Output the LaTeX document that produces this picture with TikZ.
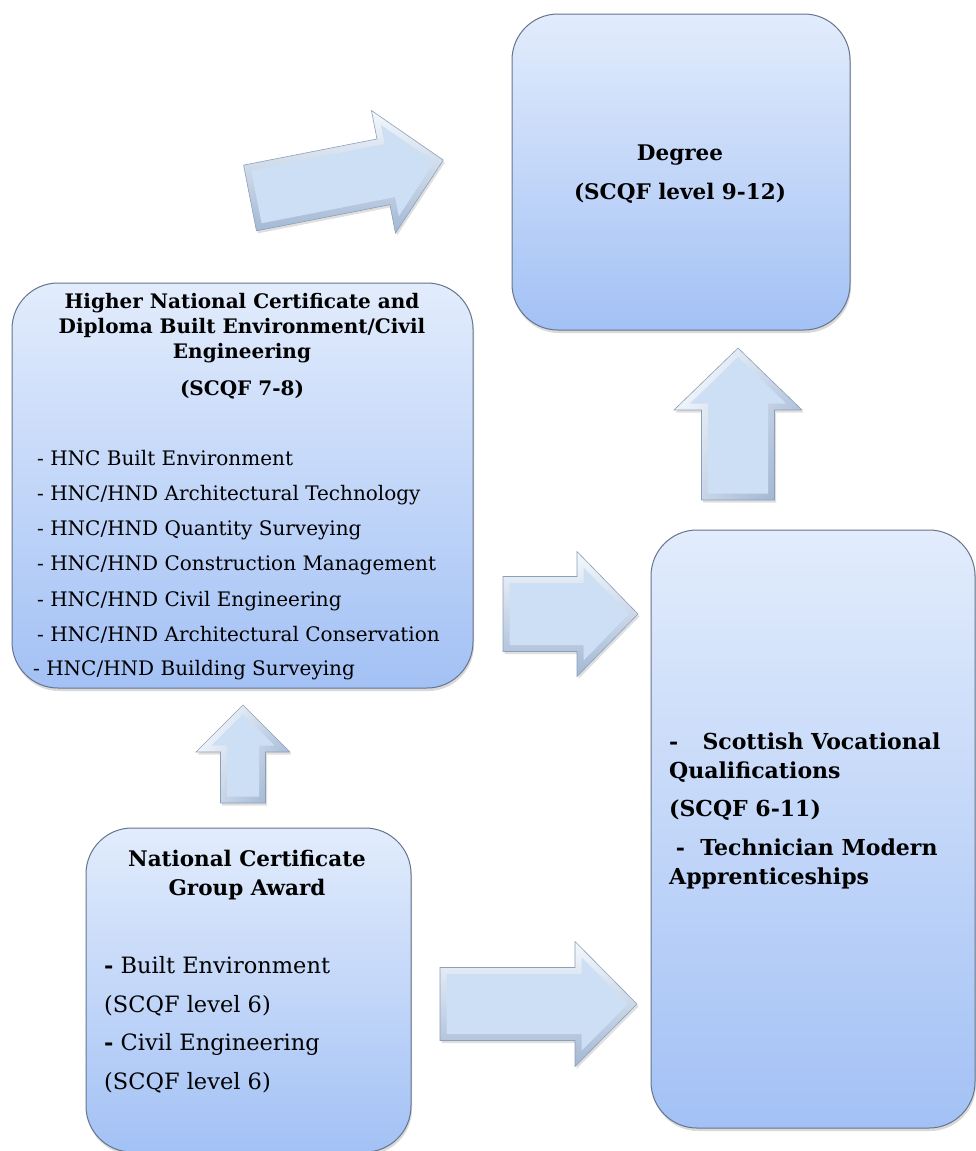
\documentclass[tikz,border=0pt]{standalone}
\usepackage{fontspec}
\setmainfont{DejaVu Serif}
\usetikzlibrary{shadows}
\definecolor{boxtop}{HTML}{E2ECFC}
\definecolor{boxbot}{HTML}{A3C1F5}
\definecolor{boxedge}{HTML}{65758C}
\definecolor{arrlight}{HTML}{CDDFF5}
\definecolor{arrdark}{HTML}{A3B8D4}
\definecolor{arrhi}{HTML}{F4F8FD}
\definecolor{arredge}{HTML}{8C9FB9}
% block arrow pointing along local +x from the origin: [shading angle] length, shaft half width, head half width, head length
\newcommand\qblockarrow[5][0]{%
  \pgfmathsetmacro\baL{#2}\pgfmathsetmacro\baS{#3}\pgfmathsetmacro\baH{#4}\pgfmathsetmacro\baK{#5}%
  \pgfmathsetmacro\baD{6.5}%
  \pgfmathsetmacro\baN{sqrt(\baH*\baH+\baK*\baK)}%
  \pgfmathsetmacro\baCy{\baH-\baD*(\baN+\baH)/\baK}%
  \pgfmathsetmacro\baTx{\baL-\baD*\baN/\baH}%
  \path[draw=arredge, line width=0.6pt, top color=arrhi, bottom color=arrdark, shading angle=#1,
        drop shadow={opacity=0.25, shadow xshift=1.5pt, shadow yshift=-2.5pt}]
    (0,\baS) -- (\baL-\baK,\baS) -- (\baL-\baK,\baH) -- (\baL,0) -- (\baL-\baK,-\baH)
    -- (\baL-\baK,-\baS) -- (0,-\baS) -- cycle;
  \fill[arrlight] (\baD,\baS-\baD) -- (\baL-\baK+\baD,\baS-\baD) -- (\baL-\baK+\baD,\baCy)
    -- (\baTx,0) -- (\baL-\baK+\baD,-\baCy) -- (\baL-\baK+\baD,-\baS+\baD) -- (\baD,-\baS+\baD) -- cycle;
}
\begin{document}
\begin{tikzpicture}[x=1pt,y=-1pt,
  qbox/.style={draw=boxedge, line width=1pt, rounded corners=46pt, top color=boxtop, bottom color=boxbot,
    drop shadow={opacity=0.3, shadow xshift=1pt, shadow yshift=-3pt}, anchor=north west, inner sep=0pt, outer sep=0pt},
  ttl/.style={font=\bfseries\fontsize{21.5}{25}\selectfont, anchor=base, inner sep=0pt},
  httl/.style={font=\bfseries\fontsize{20}{24}\selectfont, anchor=base, inner sep=0pt},
  itm/.style={font=\fontsize{20}{24}\selectfont, anchor=base west, inner sep=0pt},
  nitm/.style={font=\fontsize{22.5}{26}\selectfont, anchor=base west, inner sep=0pt},
  bitm/.style={font=\bfseries\fontsize{22}{26}\selectfont, anchor=base west, inner sep=0pt},
]
\useasboundingbox (0,0) rectangle (976,1151);

% boxes
\node[qbox, minimum width=338pt, minimum height=316pt] (deg) at (512,14) {};
\node[qbox, minimum width=461pt, minimum height=405pt] (hnc) at (12,283) {};
\node[qbox, minimum width=325pt, minimum height=324pt] (nc) at (86,828) {};
\node[qbox, minimum width=324pt, minimum height=598pt] (svq) at (651,530) {};

% block arrows
\coordinate (a1) at (250,198);
\coordinate (a2) at (503,614);
\coordinate (a3) at (440,1004);
\coordinate (a4) at (738,500);
\coordinate (a5) at (243,803);
\begin{scope}[shift={(a1)}, rotate=11.1] \qblockarrow{197}{33.5}{62.5}{61} \end{scope}
\begin{scope}[shift={(a2)}] \qblockarrow{135}{37.5}{62.5}{61} \end{scope}
\begin{scope}[shift={(a3)}] \qblockarrow{197}{36.5}{62.5}{62} \end{scope}
\begin{scope}[shift={(a4)}, rotate=90] \qblockarrow[60]{152}{36.5}{64}{62} \end{scope}
\begin{scope}[shift={(a5)}, rotate=90] \qblockarrow[60]{98}{22.5}{47}{47} \end{scope}

% Degree text
\node[ttl] (dg1) at (680,160) {Degree};
\node[ttl] (dg2) at (680,199) {(SCQF level 9-12)};

% HNC text
\node[httl] (h1) at (242,308) {Higher National Certificate and};
\node[httl] (h2) at (242,333) {Diploma Built Environment/Civil};
\node[httl] (h3) at (242,358) {Engineering};
\node[httl] (h4) at (242,395) {(SCQF 7-8)};
\node[itm] (i1) at (37,465) {- HNC Built Environment};
\node[itm] (i2) at (37,500) {- HNC/HND Architectural Technology};
\node[itm] (i3) at (37,535) {- HNC/HND Quantity Surveying};
\node[itm] (i4) at (37,570) {- HNC/HND Construction Management};
\node[itm] (i5) at (37,606) {- HNC/HND Civil Engineering};
\node[itm] (i6) at (37,641) {- HNC/HND Architectural Conservation};
\node[itm] (i7) at (33,675) {- HNC/HND Building Surveying};

% NC text
\node[ttl] (n1) at (247,866) {National Certificate};
\node[ttl] (n2) at (247,895) {Group Award};
\node[nitm] (n3) at (104,973) {\textbf{-} Built Environment};
\node[nitm] (n4) at (104,1012) {(SCQF level 6)};
\node[nitm] (n5) at (104,1050) {\textbf{-} Civil Engineering};
\node[nitm] (n6) at (104,1089) {(SCQF level 6)};

% SVQ text
\node[bitm] (s1) at (669,749) {-\hspace{1.1em}Scottish Vocational};
\node[bitm] (s2) at (669,778) {Qualifications};
\node[bitm] (s3) at (669,816) {(SCQF 6-11)};
\node[bitm] (s4) at (669,855) {\hspace{0.3em}-\hspace{0.7em}Technician Modern};
\node[bitm] (s5) at (669,884) {Apprenticeships};
\end{tikzpicture}
\end{document}
